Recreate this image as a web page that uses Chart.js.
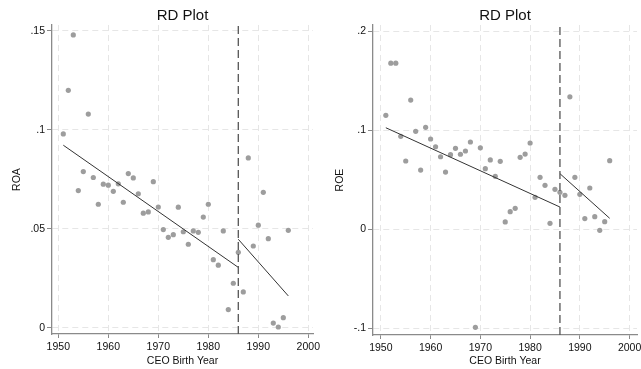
<!DOCTYPE html>
<html>
<head>
<meta charset="utf-8">
<script src="https://cdn.jsdelivr.net/npm/chart.js@4.4.0/dist/chart.umd.min.js"></script>
<style>
  html, body { margin: 0; padding: 0; background: #fff; }
  #wrap { position: relative; width: 641px; height: 369px; overflow: hidden; }
  canvas { position: absolute; top: 0; }
</style>
</head>
<body>
<div id="wrap">
  <canvas id="roaChart" width="320" height="369" style="left:0"></canvas>
  <canvas id="roeChart" width="321" height="369" style="left:320px"></canvas>
</div>
<script>
// binned means by CEO birth year
var years = [1951, 1952, 1953, 1954, 1955, 1956, 1957, 1958, 1959, 1960,
             1961, 1962, 1963, 1964, 1965, 1966, 1967, 1968, 1969, 1970,
             1971, 1972, 1973, 1974, 1975, 1976, 1977, 1978, 1979, 1980,
             1981, 1982, 1983, 1984, 1985, 1986, 1987, 1988, 1989, 1990,
             1991, 1992, 1993, 1994, 1995, 1996];

var roa = [0.098, 0.120, 0.148, 0.0694, 0.079, 0.108, 0.076, 0.0625, 0.0726, 0.0721,
           0.069, 0.0728, 0.0635, 0.078, 0.0758, 0.0678, 0.058, 0.0586, 0.0739, 0.0611,
           0.0497, 0.0458, 0.0471, 0.061, 0.0486, 0.0423, 0.049, 0.0483, 0.056, 0.0625,
           0.0345, 0.0317, 0.049, 0.0093, 0.0226, 0.0382, 0.0182, 0.0859, 0.0414, 0.0519,
           0.0685, 0.0451, 0.0025, 0.0005, 0.0052, 0.0493];

var roe = [0.1153, 0.168, 0.168, 0.0941, 0.0692, 0.1308, 0.0992, 0.060, 0.1032, 0.0914,
           0.0836, 0.0735, 0.058, 0.0756, 0.082, 0.076, 0.0793, 0.0884, -0.0988, 0.0825,
           0.0614, 0.0703, 0.0537, 0.0689, 0.0076, 0.018, 0.0214, 0.0729, 0.0762, 0.0874,
           0.0325, 0.0527, 0.0446, 0.0062, 0.0406, 0.0375, 0.0345, 0.134, 0.0527, 0.0355,
           0.011, 0.0419, 0.0129, -0.0008, 0.0079, 0.0695];

// linear fits either side of the cutoff
var cutoff = 1986;
var fitYearsLeft = [1951, 1986];
var fitYearsRight = [1986, 1996];
var roaFitLeft = [0.0923, 0.0306];
var roaFitRight = [0.0448, 0.0162];
var roeFitLeft = [0.1028, 0.0227];
var roeFitRight = [0.0564, 0.0113];

var xTicks = [1950, 1960, 1970, 1980, 1990, 2000];
var roaTicks = [0, 0.05, 0.1, 0.15];
var roaTickLabels = ['0', '.05', '.1', '.15'];
var roeTicks = [-0.1, 0, 0.1, 0.2];
var roeTickLabels = ['-.1', '0', '.1', '.2'];

var FONT = "'Liberation Sans', Arial, sans-serif";

function pairs(xs, ys) {
  return xs.map(function (x, i) { return {x: x, y: ys[i]}; });
}

function rdChart(id, o) {
  var axisColor = '#8a8a8a';
  return new Chart(document.getElementById(id), {
    type: 'scatter',
    data: {
      datasets: [
        {data: pairs([cutoff, cutoff], [o.yMin, o.yMax]), showLine: true, pointRadius: 0,
         borderColor: '#555', borderWidth: 1.3, borderDash: [8, 4]},
        {data: pairs(fitYearsLeft, o.fitLeft), showLine: true, pointRadius: 0,
         borderColor: '#333', borderWidth: 1},
        {data: pairs(fitYearsRight, o.fitRight), showLine: true, pointRadius: 0,
         borderColor: '#333', borderWidth: 1},
        {data: pairs(years, o.values), pointRadius: 2.6, pointBorderWidth: 0,
         pointBackgroundColor: '#9d9d9d', borderColor: '#9d9d9d'}
      ]
    },
    options: {
      responsive: false,
      animation: false,
      layout: {padding: {left: 0, right: o.padRight, top: 0, bottom: 0}},
      plugins: {
        legend: {display: false},
        tooltip: {enabled: false},
        title: {display: true, text: 'RD Plot', fullSize: false, color: '#111',
                font: {family: FONT, size: 15, weight: 'normal'},
                padding: {top: 7, bottom: 0}}
      },
      scales: {
        x: {
          type: 'linear', min: o.xMin, max: o.xMax,
          afterBuildTicks: function (s) { s.ticks = xTicks.map(function (v) { return {value: v}; }); },
          afterFit: function (s) { s.height = o.xAxisHeight; s.paddingLeft = 0; s.paddingRight = 0; },
          ticks: {color: '#111', padding: 3, maxRotation: 0, font: {family: FONT, size: 10.5},
                  callback: function (v) { return String(v); }},
          grid: {color: '#e6e6e6', tickColor: axisColor, tickLength: 4, lineWidth: 1},
          border: {color: axisColor, width: 1.3, dash: [6, 4]},
          title: {display: true, text: 'CEO Birth Year', color: '#111',
                  font: {family: FONT, size: 10.5}, padding: {top: 0, bottom: 1.5}}
        },
        y: {
          type: 'linear', min: o.yMin, max: o.yMax,
          afterBuildTicks: function (s) { s.ticks = o.yTicks.map(function (v) { return {value: v}; }); },
          afterFit: function (s) { s.width = o.yAxisWidth; s.paddingTop = 0; s.paddingBottom = 0; },
          ticks: {color: '#111', padding: 2, font: {family: FONT, size: 10.5},
                  callback: function (v) {
                    var i = o.yTicks.findIndex(function (t) { return Math.abs(t - v) < 1e-9; });
                    return i < 0 ? '' : o.yLabels[i];
                  }},
          grid: {color: '#e6e6e6', tickColor: axisColor, tickLength: 5, lineWidth: 1},
          border: {color: axisColor, width: 1.3, dash: [6, 4]},
          title: {display: true, text: o.yTitle, color: '#111',
                  font: {family: FONT, size: 10.5}, padding: {top: o.yTitlePad, bottom: 0}}
        }
      }
    }
  });
}

rdChart('roaChart', {
  values: roa, fitLeft: roaFitLeft, fitRight: roaFitRight,
  yTicks: roaTicks, yLabels: roaTickLabels, yTitle: 'ROA',
  xMin: 1948.74, xMax: 2000.94, yMin: -0.00303, yMax: 0.153,
  yAxisWidth: 52, xAxisHeight: 35, padRight: 7, yTitlePad: 11
});

rdChart('roeChart', {
  values: roe, fitLeft: roeFitLeft, fitRight: roeFitRight,
  yTicks: roeTicks, yLabels: roeTickLabels, yTitle: 'ROE',
  xMin: 1948.42, xMax: 2001.49, yMin: -0.1066, yMax: 0.2066,
  yAxisWidth: 53, xAxisHeight: 34, padRight: 0, yTitlePad: 14
});
</script>
</body>
</html>
